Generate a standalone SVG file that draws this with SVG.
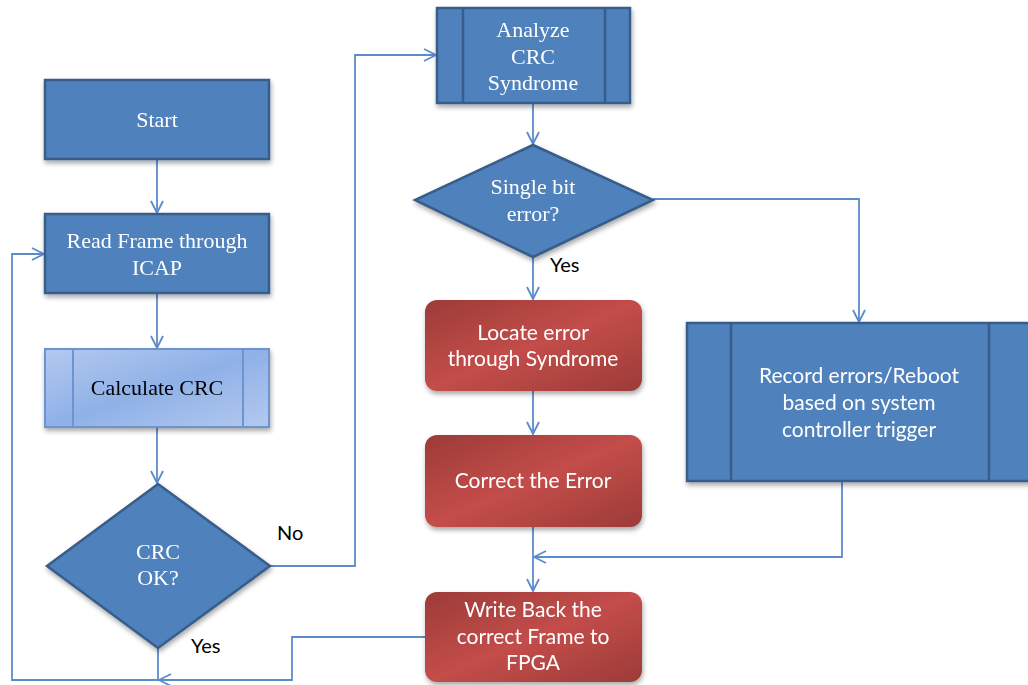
<svg xmlns="http://www.w3.org/2000/svg" width="1028" height="685" viewBox="0 0 1028 685">
  <style>
    .blue { fill: #4F81BD; stroke: #385D8A; stroke-width: 2.5; }
    .light { fill: url(#lightGrad); stroke: #6E94CF; stroke-width: 2; }
    .red { fill: url(#redGrad); stroke: none; }
    .div { stroke: #385D8A; stroke-width: 2.5; fill: none; }
    .divl { stroke: #6E94CF; stroke-width: 2; fill: none; }
    .serif { font-family: "Liberation Serif", "Times New Roman", serif; font-size: 22px; fill: #FFFFFF; text-anchor: middle; }
    .sans { font-family: "Lato", "Open Sans", sans-serif; font-size: 21px; fill: #FFFFFF; text-anchor: middle; }
    .lbl { font-family: "Lato", "Open Sans", sans-serif; font-size: 20px; fill: #000000; }
    .conn { fill: none; stroke: #5B8BCB; stroke-width: 1.8; }
  </style>
  <defs>
    <linearGradient id="redGrad" x1="0" y1="0" x2="1" y2="1">
      <stop offset="0" stop-color="#9C3B38"/>
      <stop offset="0.5" stop-color="#C34D4A"/>
      <stop offset="1" stop-color="#9C3B38"/>
    </linearGradient>
    <linearGradient id="lightGrad" x1="0" y1="0" x2="1" y2="1">
      <stop offset="0" stop-color="#B4C9EE"/>
      <stop offset="0.5" stop-color="#8FB1E8"/>
      <stop offset="1" stop-color="#B4C9EE"/>
    </linearGradient>
    <filter id="shadow" x="-10%" y="-10%" width="130%" height="140%">
      <feGaussianBlur in="SourceAlpha" stdDeviation="2.5"/>
      <feOffset dx="1" dy="3" result="b"/>
      <feComponentTransfer><feFuncA type="linear" slope="0.35"/></feComponentTransfer>
      <feMerge><feMergeNode/><feMergeNode in="SourceGraphic"/></feMerge>
    </filter>
    <marker id="arrow" viewBox="0 0 14 14" refX="13" refY="7" markerWidth="14" markerHeight="14" markerUnits="userSpaceOnUse" orient="auto">
      <path d="M1,1 L13,7 L1,13" fill="none" stroke="#5B8BCB" stroke-width="1.8"/>
    </marker>
  </defs>

  <!-- connectors -->
  <g id="connectors">
    <path class="conn" d="M157,159 V213" marker-end="url(#arrow)"/>
    <path class="conn" d="M157,293 V348" marker-end="url(#arrow)"/>
    <path class="conn" d="M157,427 V483" marker-end="url(#arrow)"/>
    <path class="conn" d="M270,566 H355 V55 H436" marker-end="url(#arrow)"/>
    <path class="conn" d="M158,648 V680 H12 V254 H44" marker-end="url(#arrow)"/>
    <path class="conn" d="M425,637 H292 V680 H159" marker-end="url(#arrow)"/>
    <path class="conn" d="M533,103 V144" marker-end="url(#arrow)"/>
    <path class="conn" d="M533,257 V299" marker-end="url(#arrow)"/>
    <path class="conn" d="M653,199 H859 V322" marker-end="url(#arrow)"/>
    <path class="conn" d="M533,391 V434" marker-end="url(#arrow)"/>
    <path class="conn" d="M533,527 V591" marker-end="url(#arrow)"/>
    <path class="conn" d="M842,481 V557 H534" marker-end="url(#arrow)"/>
    <text class="lbl" x="277" y="540">No</text>
    <text class="lbl" x="191" y="653">Yes</text>
    <text class="lbl" x="550" y="272">Yes</text>
  </g>

  <g id="start" filter="url(#shadow)">
    <rect class="blue" x="45" y="80" width="224" height="79"/>
    <text class="serif" x="157" y="127">Start</text>
  </g>

  <g id="read-frame" filter="url(#shadow)">
    <rect class="blue" x="45" y="214" width="224" height="79"/>
    <text class="serif" x="157" y="248">Read Frame through</text>
    <text class="serif" x="157" y="275">ICAP</text>
  </g>

  <g id="calculate-crc" filter="url(#shadow)">
    <rect class="light" x="45" y="349" width="224" height="78"/>
    <path class="divl" d="M73,349 V427 M243,349 V427"/>
    <text class="serif" x="157" y="395" style="fill:#000">Calculate CRC</text>
  </g>

  <g id="crc-ok" filter="url(#shadow)">
    <polygon class="blue" points="158,484 270,566 158,648 47,566"/>
    <text class="serif" x="158" y="559">CRC</text>
    <text class="serif" x="158" y="585">OK?</text>
  </g>

  <g id="analyze-syndrome" filter="url(#shadow)">
    <rect class="blue" x="437" y="8" width="193" height="95"/>
    <path class="div" d="M463,8 V103 M605,8 V103"/>
    <text class="serif" x="533" y="37">Analyze</text>
    <text class="serif" x="533" y="64">CRC</text>
    <text class="serif" x="533" y="90">Syndrome</text>
  </g>

  <g id="single-bit" filter="url(#shadow)">
    <polygon class="blue" points="533,145 653,200 533,257 415,200"/>
    <text class="serif" x="533" y="194">Single bit</text>
    <text class="serif" x="533" y="221">error?</text>
  </g>

  <g id="locate-error" filter="url(#shadow)">
    <rect class="red" x="425" y="300" width="217" height="91" rx="12"/>
    <text class="sans" x="533" y="340">Locate error</text>
    <text class="sans" x="533" y="366">through Syndrome</text>
  </g>

  <g id="correct-error" filter="url(#shadow)">
    <rect class="red" x="425" y="435" width="217" height="92" rx="12"/>
    <text class="sans" x="533" y="488">Correct the Error</text>
  </g>

  <g id="write-back" filter="url(#shadow)">
    <rect class="red" x="425" y="592" width="217" height="90" rx="12"/>
    <text class="sans" x="533" y="617">Write Back the</text>
    <text class="sans" x="533" y="644">correct Frame to</text>
    <text class="sans" x="533" y="670">FPGA</text>
  </g>

  <g id="record-errors" filter="url(#shadow)">
    <rect class="blue" x="687" y="323" width="355" height="158"/>
    <path class="div" d="M731,323 V481 M989,323 V481"/>
    <text class="sans" x="859" y="383">Record errors/Reboot</text>
    <text class="sans" x="859" y="410">based on system</text>
    <text class="sans" x="859" y="437">controller trigger</text>
  </g>
</svg>
